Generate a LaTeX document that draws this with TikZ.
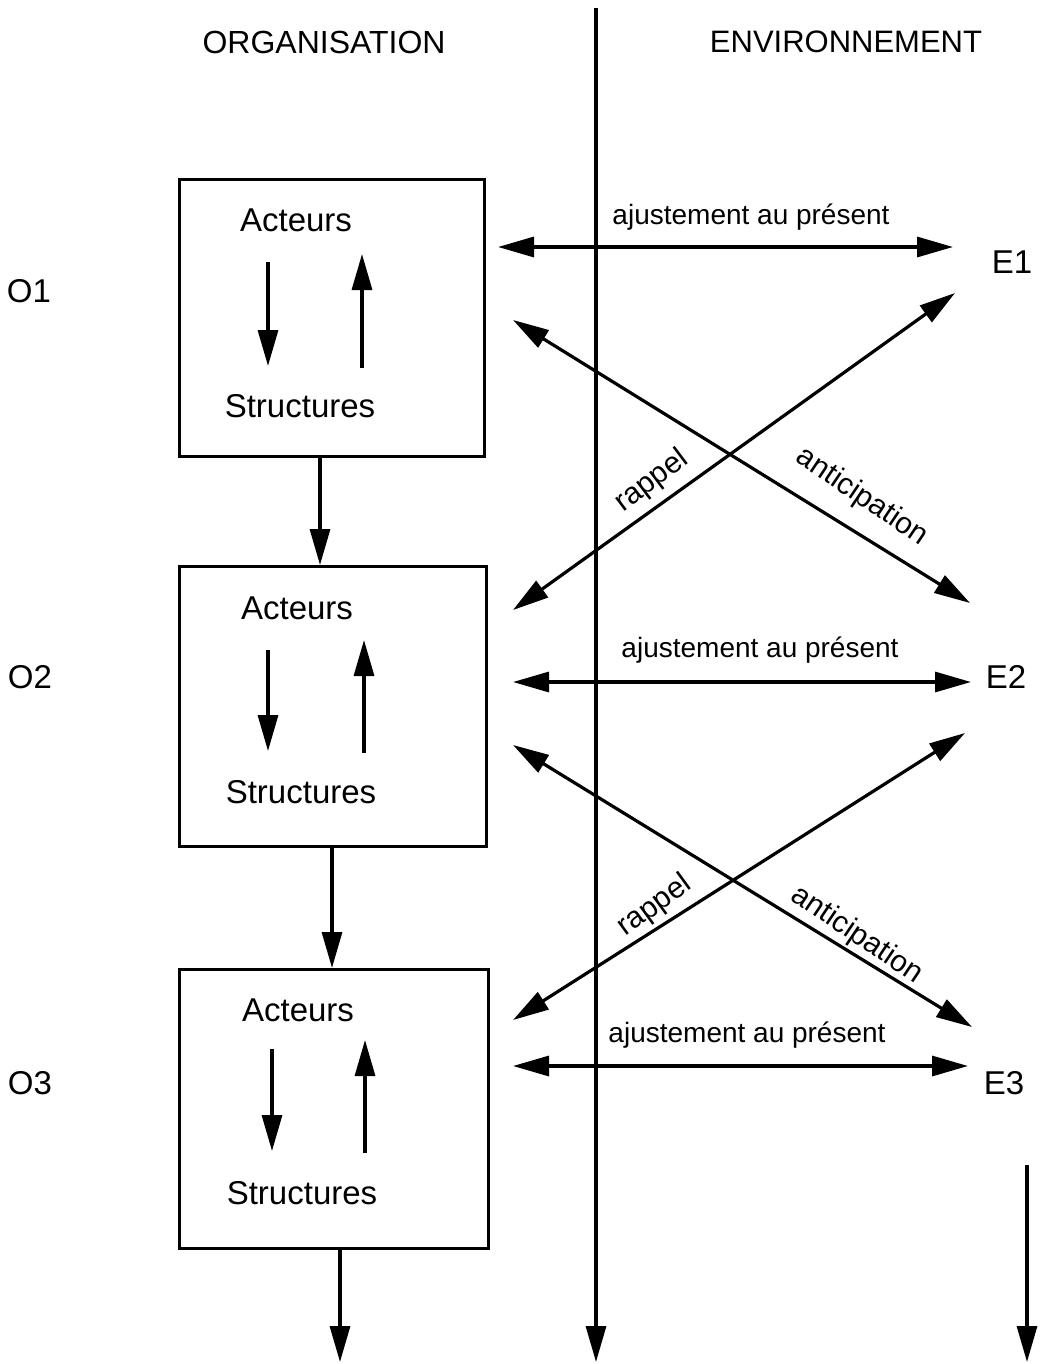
\documentclass[tikz,border=0pt]{standalone}
\usepackage{fontspec}
\setmainfont{Liberation Sans}
\usetikzlibrary{arrows.meta}
\begin{document}
\begin{tikzpicture}[x=1pt,y=-1pt,
  line width=3.2pt,
  tip/.style={-{Triangle[length=36pt,width=20pt]}},
  twotip/.style={{Triangle[length=36pt,width=20pt]}-{Triangle[length=36pt,width=20pt]}},
  orgbox/.style={draw,line width=3.2pt,minimum width=305pt,minimum height=277pt,anchor=north west,inner sep=0pt},
  big/.style={font=\fontsize{33}{38}\selectfont,inner sep=0pt},
  lbl/.style={font=\fontsize{28}{32}\selectfont,inner sep=0pt},
  slant/.style={font=\fontsize{30}{34}\selectfont,inner sep=0pt},
  head/.style={font=\fontsize{32}{36}\selectfont,inner sep=0pt}]
\useasboundingbox (0,0) rectangle (1041,1364);

% column headings
\node[head] (horg) at (324,42) {ORGANISATION};
\node[head,font=\fontsize{31}{36}\selectfont] (henv) at (846,42) {ENVIRONNEMENT};

% time axes
\coordinate (axt) at (596,8);
\coordinate (axb) at (596,1362);
\draw[tip] (axt) -- (axb);
\coordinate (ert) at (1027,1165);
\coordinate (erb) at (1027,1362);
\draw[tip] (ert) -- (erb);

% organisation boxes
\node[orgbox] (b1) at (178,178) {};
\node[orgbox,minimum width=307pt,minimum height=280pt] (b2) at (178,565) {};
\node[orgbox,minimum width=309pt,minimum height=279pt] (b3) at (178,968) {};

\node[big] (a1) at (296,220) {Acteurs};
\node[big] (s1) at (300,406) {Structures};
\node[big] (a2) at (297,608) {Acteurs};
\node[big] (s2) at (301,792) {Structures};
\node[big] (a3) at (298,1010) {Acteurs};
\node[big] (s3) at (302,1193) {Structures};

% internal loops
\coordinate (d1a) at (268,262); \coordinate (d1b) at (268,366);
\coordinate (u1a) at (362,368); \coordinate (u1b) at (362,254);
\coordinate (d2a) at (268,650); \coordinate (d2b) at (268,751);
\coordinate (u2a) at (364,753); \coordinate (u2b) at (364,640);
\coordinate (d3a) at (272,1049); \coordinate (d3b) at (272,1151);
\coordinate (u3a) at (365,1153); \coordinate (u3b) at (365,1040);
\foreach \p in {d1,u1,d2,u2,d3,u3} \draw[tip] (\p a) -- (\p b);

% succession of states
\draw[tip] (b1.south -| 320,0) -- (b2.north -| 320,0);
\draw[tip] (b2.south -| 332,0) -- (b3.north -| 332,0);
\coordinate (o3end) at (340,1362);
\draw[tip] (b3.south -| 340,0) -- (o3end);

% side labels
\node[big] (o1) at (29,291) {O1};
\node[big] (o2) at (30,677) {O2};
\node[big] (o3) at (30,1083) {O3};
\node[big] (e1) at (1012,262) {E1};
\node[big] (e2) at (1006,677) {E2};
\node[big] (e3) at (1004,1083) {E3};

% adjustment to the present
\coordinate (h1l) at (498,247); \coordinate (h1r) at (953,247);
\coordinate (h2l) at (513,682); \coordinate (h2r) at (971,682);
\coordinate (h3l) at (513,1066); \coordinate (h3r) at (968,1066);
\draw[twotip] (h1l) -- (h1r);
\draw[twotip] (h2l) -- (h2r);
\draw[twotip] (h3l) -- (h3r);
\node[lbl] (t1) at (751,217) {ajustement au présent};
\node[lbl] (t2) at (760,650) {ajustement au présent};
\node[lbl] (t3) at (747,1035) {ajustement au présent};

% anticipation and recall
\coordinate (an1a) at (513,320); \coordinate (an1b) at (970,603);
\coordinate (ra1a) at (513,610); \coordinate (ra1b) at (955,293);
\coordinate (an2a) at (513,745); \coordinate (an2b) at (972,1027);
\coordinate (ra2a) at (513,1020); \coordinate (ra2b) at (965,733);
\draw[twotip] (an1a) -- (an1b);
\draw[twotip] (ra1a) -- (ra1b);
\draw[twotip] (an2a) -- (an2b);
\draw[twotip] (ra2a) -- (ra2b);
\node[slant,rotate=37] (r1) at (652,481) {rappel};
\node[slant,rotate=-34] (p1) at (862,497) {anticipation};
\node[slant,rotate=36] (r2) at (655,906) {rappel};
\node[slant,rotate=-34] (p2) at (857,935) {anticipation};
\end{tikzpicture}
\end{document}
